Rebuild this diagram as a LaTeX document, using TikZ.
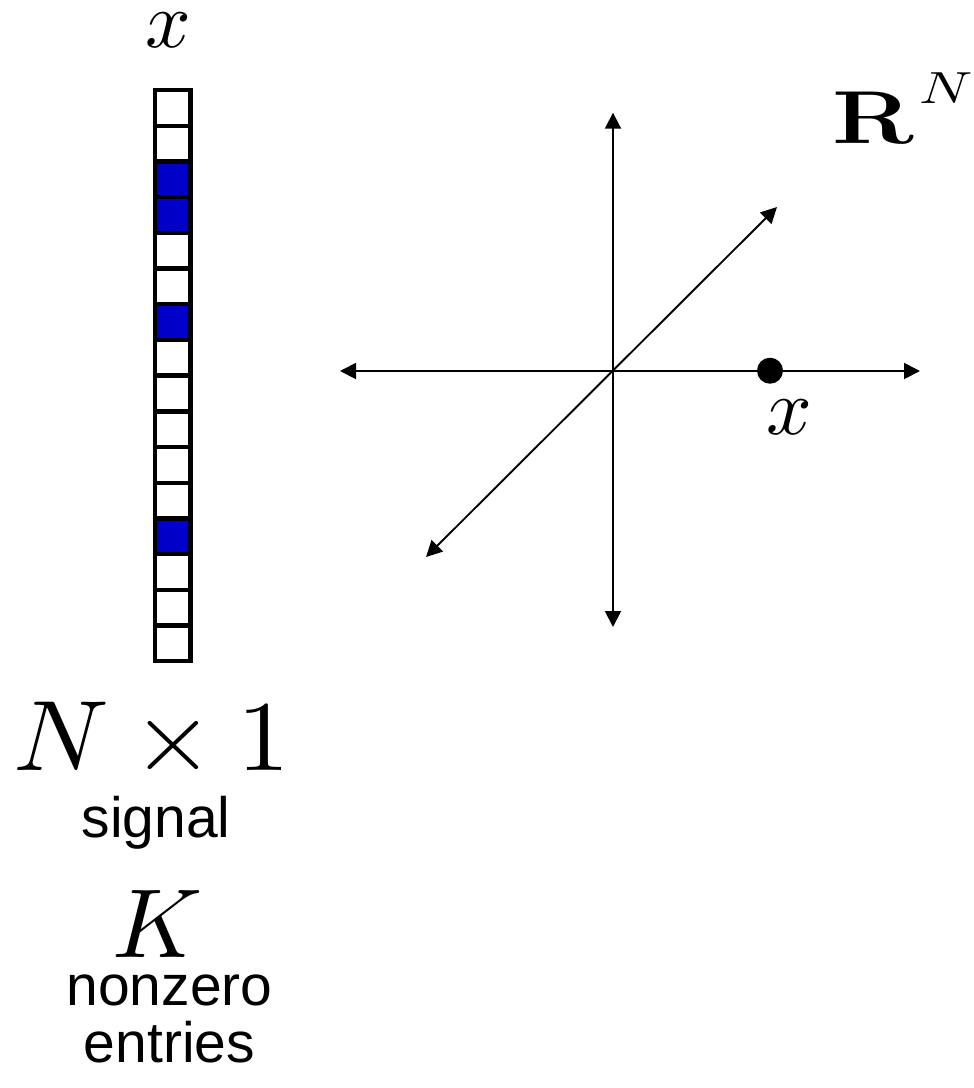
\documentclass[tikz,border=0pt]{standalone}
\usepackage{fontspec}
\usepackage{unicode-math}
\setmathfont{Latin Modern Math}
\newfontfamily\sigsans{Liberation Sans}
\usetikzlibrary{arrows.meta}
\definecolor{sigBlue}{HTML}{0000C8}
\tikzset{
  sig cell/.style={draw=black, line width=4.4pt, fill=white, minimum size=35.7pt, inner sep=0pt},
  sig nonzero/.style={sig cell, fill=sigBlue},
  sig axis/.style={draw=black, line width=1.9pt, {Triangle[length=16pt,width=16pt]}-{Triangle[length=16pt,width=16pt]}},
  sig dot/.style={circle, fill=black, minimum size=26pt, inner sep=0pt},
  sig math/.style={inner sep=0pt, anchor=base, font=\fontsize{#1}{#1}\selectfont},
  sig text/.style={inner sep=0pt, anchor=base, font=\fontsize{57}{57}\selectfont\sigsans},
}

\begin{document}
\begin{tikzpicture}[x=1pt, y=-1pt]
  \useasboundingbox (0,0) rectangle (974,1088);

  % Sparse column vector, 16 entries, K of them nonzero
  \foreach \i in {0,...,15}
    \node[sig cell] (c\i) at (172.75, 107.85+35.7*\i) {};
  \foreach \i in {2,3,6,12}
    \node[sig nonzero] at (c\i) {};

  % Labels of the vector
  \node[sig math=80] (xtop) at (168.5,47) {$x$};
  \node[sig math=100] (dims) at (152,770) {\scalebox{1.05}[1]{$N\times 1$}};
  \node[sig text] (signal) at (156,837) {signal};
  \node[sig math=98] (kay) at (157.5,957) {$K$};
  \node[sig text] (nonzero) at (169.5,1005) {nonzero};
  \node[sig text] (entries) at (169.5,1062) {entries};

  % Axes of R^N
  \coordinate (o) at (613,371);
  \coordinate (e) at (920,371);
  \coordinate (w) at (340,371);
  \coordinate (n) at (613,112.7);
  \coordinate (s) at (613,627);
  \coordinate (ne) at (777,207);
  \coordinate (sw) at (426,557);
  \draw[sig axis] (w) -- (e);
  \draw[sig axis] (s) -- (n);
  \draw[sig axis] (sw) -- (ne);

  % The signal as one point
  \node[sig dot] (pt) at (770,370.7) {};
  \node[sig math=80] (xpt) at (789,434) {$x$};
  \node[sig math=75, anchor=base west] (space) at (832,143)
    {\scalebox{1.3}[1]{$\mathbf{R}$\hspace{4pt}\raisebox{40pt}{\fontsize{45}{45}\selectfont$N$}}};
\end{tikzpicture}
\end{document}
